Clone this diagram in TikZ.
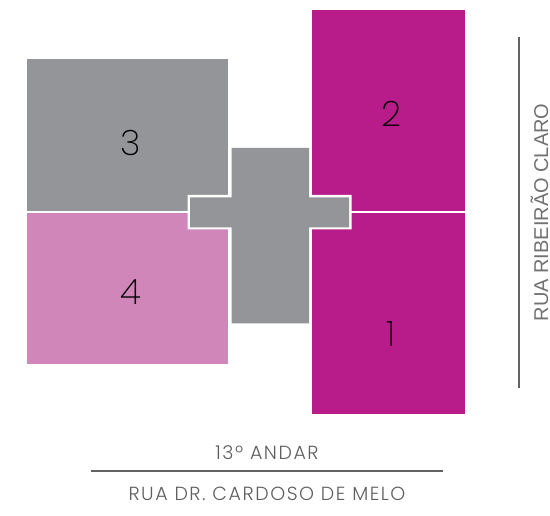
\documentclass[tikz,border=0pt]{standalone}
\usepackage{fontspec}
\setmainfont{Poppins Light}[LetterSpace=8.2]
\newfontfamily\numfont{Poppins ExtraLight}
\newfontfamily\sidefont{Liberation Sans}
\definecolor{grayunit}{HTML}{939598}
\definecolor{magunit}{HTML}{B71C8A}
\definecolor{pinkunit}{HTML}{D186BA}
\definecolor{inktext}{HTML}{5F5F5F}
\definecolor{sidetext}{HTML}{727272}
\definecolor{inkline}{HTML}{636363}
\tikzset{
  unit/.style={draw=none,inner sep=0pt,outer sep=0pt,anchor=north west},
  num/.style={text=black,font=\numfont\fontsize{35}{35}\selectfont,inner sep=0pt},
  street/.style={text=inktext,font=\fontsize{19}{19}\selectfont,inner sep=0pt},
  rule/.style={draw=inkline,line width=1.7pt}
}
\begin{document}
\begin{tikzpicture}[x=1pt,y=-1pt]
\useasboundingbox (0,0) rectangle (550,516);
\fill[white] (0,0) rectangle (550,516);
\node[unit,fill=grayunit,minimum width=201.7pt,minimum height=152pt] (u3) at (26.5,59.3) {};
\node[unit,fill=pinkunit,minimum width=201.7pt,minimum height=151pt] (u4) at (26.5,213.3) {};
\node[unit,fill=magunit,minimum width=153pt,minimum height=201pt] (u2) at (312.3,10) {};
\node[unit,fill=magunit,minimum width=153pt,minimum height=201pt] (u1) at (312.3,213.3) {};
\fill[white] (187.5,195) rectangle (351.7,229.5) (228.2,195) rectangle (312.3,229.5);
\fill[grayunit] (231.5,148) -- (309,148) -- (309,197.3) -- (349,197.3) -- (349,227.3) -- (309,227.3) -- (309,323.3) -- (231.5,323.3) -- (231.5,227.3) -- (190,227.3) -- (190,197.3) -- (231.5,197.3) -- cycle;
\node[num] (n3) at (131,143) {3};
\node[num] (n4) at (131,292) {4};
\node[num] (n2) at (391,114) {2};
\node[num] (n1) at (391,334) {1};
\node[street] (floor) at (267,453) {13º ANDAR};
\node[street] (rua) at (267,494) {RUA DR. CARDOSO DE MELO};
\node[street,text=sidetext,rotate=90,anchor=base,text depth=0pt] (side) at (548,212.5) {\sidefont\fontsize{20}{20}\selectfont RUA RIBEIRÃO CLARO};
\coordinate (ha) at (91,471);
\coordinate (hb) at (443,471);
\coordinate (va) at (519,37);
\coordinate (vb) at (519,388);
\draw[rule] (ha) -- (hb);
\draw[rule] (va) -- (vb);
\end{tikzpicture}
\end{document}
